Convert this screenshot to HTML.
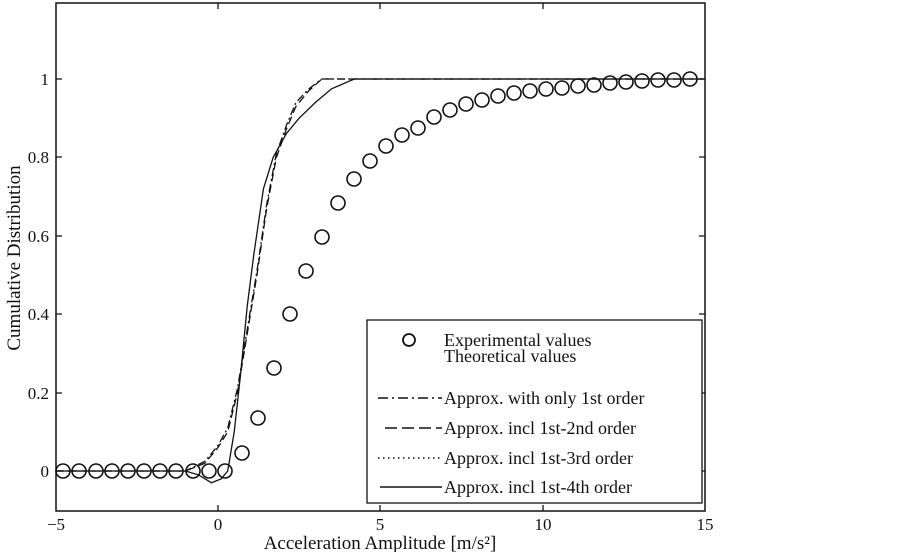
<!DOCTYPE html>
<html><head><style>body{margin:0;background:#fff}svg{display:block}text{font-family:"Liberation Serif",serif;font-size:17px;fill:#111}.lg{font-size:18px}.al{font-size:19px}</style></head>
<body>
<svg width="903" height="552" viewBox="0 0 903 552">
<rect x="56" y="3" width="649" height="508" fill="none" stroke="#111" stroke-width="1.5"/>
<g stroke="#111" stroke-width="1.3">
<path d="M56,471h6M56,393h6M56,314h6M56,236h6M56,157h6M56,79h6M705,471h-6M705,393h-6M705,314h-6M705,236h-6M705,157h-6M705,79h-6"/>
<path d="M218,511v-6M380,511v-6M543,511v-6M218,3v6M380,3v6M543,3v6"/>
</g>
<g text-anchor="end">
<text x="49" y="477">0</text><text x="49" y="399">0.2</text><text x="49" y="320">0.4</text><text x="49" y="242">0.6</text><text x="49" y="163">0.8</text><text x="49" y="85">1</text>
</g>
<g text-anchor="middle">
<text x="56" y="530">−5</text><text x="218" y="530">0</text><text x="380" y="530">5</text><text x="543" y="530">10</text><text x="705" y="530">15</text>
<text class="al" x="380" y="549">Acceleration Amplitude [m/s²]</text>
<text class="al" transform="translate(20,258) rotate(-90)">Cumulative Distribution</text>
</g>
<g transform="translate(218,471) scale(32.45,-392)" fill="none" stroke="#111" stroke-width="1.3">
<polyline vector-effect="non-scaling-stroke" points="-5,0 -1,0 -0.6,-0.01 -0.2,-0.03 0.1,-0.02 0.3,0 0.5,0.1 0.7,0.25 0.9,0.42 1.1,0.55 1.4,0.72 1.7,0.8 2.1,0.86 2.5,0.9 3,0.94 3.5,0.975 4.2,1 15,1"/>
<polyline vector-effect="non-scaling-stroke" stroke-dasharray="8,4" points="-5,0 -1,0 -0.4,0.02 0,0.06 0.3,0.1 0.6,0.2 0.9,0.35 1.2,0.5 1.5,0.67 1.8,0.8 2.1,0.87 2.4,0.93 2.8,0.97 3.2,1 15,1"/>
<polyline vector-effect="non-scaling-stroke" stroke-dasharray="8,3,2,3" points="-5,0 -1,0 -0.4,0.025 0,0.065 0.3,0.11 0.6,0.21 0.9,0.36 1.2,0.51 1.5,0.68 1.8,0.81 2.1,0.88 2.4,0.94 2.8,0.975 3.2,1 15,1"/>
</g>
<g fill="none" stroke="#111" stroke-width="1.6">
<circle cx="63" cy="471" r="7"/><circle cx="79" cy="471" r="7"/><circle cx="96" cy="471" r="7"/><circle cx="112" cy="471" r="7"/><circle cx="128" cy="471" r="7"/><circle cx="144" cy="471" r="7"/><circle cx="160" cy="471" r="7"/><circle cx="176" cy="471" r="7"/><circle cx="193" cy="471" r="7"/><circle cx="209" cy="471" r="7"/><circle cx="225" cy="471" r="7"/>
<circle cx="242" cy="453" r="7"/><circle cx="258" cy="418" r="7"/><circle cx="274" cy="368" r="7"/><circle cx="290" cy="314" r="7"/><circle cx="306" cy="271" r="7"/><circle cx="322" cy="237" r="7"/><circle cx="338" cy="203" r="7"/><circle cx="354" cy="179" r="7"/><circle cx="370" cy="161" r="7"/><circle cx="386" cy="146" r="7"/><circle cx="402" cy="135" r="7"/><circle cx="418" cy="128" r="7"/><circle cx="434" cy="117" r="7"/><circle cx="450" cy="110" r="7"/><circle cx="466" cy="104" r="7"/><circle cx="482" cy="100" r="7"/><circle cx="498" cy="96" r="7"/><circle cx="514" cy="93" r="7"/><circle cx="530" cy="91" r="7"/><circle cx="546" cy="89" r="7"/><circle cx="562" cy="88" r="7"/><circle cx="578" cy="86" r="7"/><circle cx="594" cy="85" r="7"/><circle cx="610" cy="83" r="7"/><circle cx="626" cy="82" r="7"/><circle cx="642" cy="81" r="7"/><circle cx="658" cy="80" r="7"/><circle cx="674" cy="80" r="7"/><circle cx="690" cy="79" r="7"/>
</g>
<rect x="367" y="320" width="335" height="183" fill="#fff" stroke="#111" stroke-width="1.3"/>
<circle cx="409" cy="340" r="6" fill="none" stroke="#111" stroke-width="1.8"/>
<g stroke="#111" stroke-width="1.4">
<line x1="378" y1="398" x2="442" y2="398" stroke-dasharray="10,4,2,4"/>
<line x1="385" y1="428" x2="442" y2="428" stroke-dasharray="12,5"/>
<line x1="378" y1="458" x2="442" y2="458" stroke-dasharray="1.5,3.5"/>
<line x1="380" y1="487" x2="442" y2="487"/>
</g>
<g class="lg">
<text class="lg" x="444" y="346">Experimental values</text>
<text class="lg" x="444" y="362">Theoretical values</text>
<text class="lg" x="444" y="404">Approx. with only 1st order</text>
<text class="lg" x="444" y="434">Approx. incl  1st-2nd order</text>
<text class="lg" x="444" y="464">Approx. incl  1st-3rd order</text>
<text class="lg" x="444" y="493">Approx. incl  1st-4th order</text>
</g>
</svg>
</body></html>
